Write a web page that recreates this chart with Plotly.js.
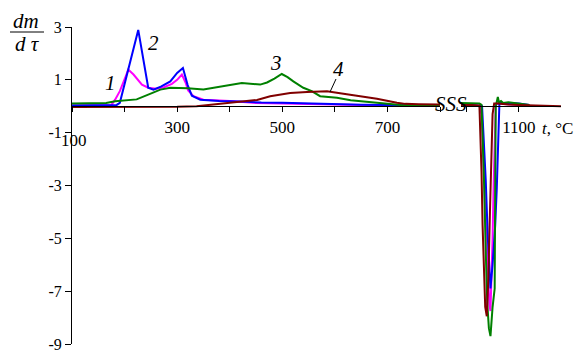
<!DOCTYPE html>
<html>
<head>
<meta charset="utf-8">
<script src="https://cdn.plot.ly/plotly-3.0.1.min.js"></script>
<style>html,body{margin:0;padding:0;background:#fff;}#chart{width:582px;height:354px;}</style>
</head>
<body>
<div id="chart"></div>
<script>
// ---- Data (t in °C, dm/dτ values) ----
// Segment before the axis break (100–800 °C)
const tMagentaA = [100,150,175,182,191,201,207,217,233,245,260,275,290,300,309,316,321,331,350,400,450,500,550,600,650,700,760];
const vMagentaA = [0.03,0.03,0.05,0.25,0.57,1.07,1.39,1.2,0.82,0.7,0.66,0.72,0.85,1.0,1.2,0.9,0.6,0.38,0.25,0.2,0.12,0.1,0.08,0.07,0.05,0.05,0.03];

const tBlueA = [100,150,185,191,226,245,255,270,287,300,311,320,328,344,380,420,460,500,550,600,650,700,760];
const vBlueA = [0.03,0.03,0.05,0.13,2.89,0.7,0.63,0.75,0.94,1.26,1.45,0.8,0.4,0.25,0.2,0.18,0.14,0.13,0.1,0.08,0.06,0.05,0.04];

const tGreenA = [100,165,182,200,223,245,268,287,320,350,382,423,458,471,485,499,510,521,540,556,572,604,630,649,680,725,763,800];
const vGreenA = [0.1,0.12,0.19,0.22,0.26,0.44,0.63,0.7,0.68,0.63,0.75,0.88,0.82,0.9,1.05,1.22,1.1,0.94,0.7,0.57,0.38,0.32,0.23,0.19,0.13,0.05,0.03,0.02];

const tBrownA = [100,200,300,337,395,452,477,515,547,585,610,649,680,718,734,760,800];
const vBrownA = [-0.03,-0.03,-0.02,0,0.13,0.24,0.38,0.5,0.54,0.57,0.49,0.38,0.28,0.13,0.09,0.08,0.07];

// Segment after the axis break (990–1180 °C)
const tMagentaB = [990,1010,1025,1029,1032,1036,1040,1044,1046,1048,1050,1052,1054,1056,1060,1080,1100,1115];
const vMagentaB = [0.05,0.05,0.03,-0.3,-1.5,-4.0,-6.0,-7.5,-7.75,-6.5,-5.0,-3.0,-1.0,0.05,0.1,0.08,0.05,0.03];

const tBlueB = [990,1010,1030,1033,1037,1041,1046,1050,1055,1058,1061,1063,1080,1100,1120];
const vBlueB = [0.05,0.05,0,-1.0,-2.8,-5.0,-6.9,-6.0,-4.5,-3.1,-1.5,0.12,0.12,0.1,0.05];

const tGreenB = [990,1010,1025,1029,1031,1034,1037,1040,1043,1046,1050,1054,1055,1056,1060,1062,1066,1070,1080,1100,1120];
const vGreenB = [0.12,0.12,0.1,0.05,-1.0,-3.0,-5.5,-7.5,-8.4,-8.7,-7.6,-6.9,-3.0,0.0,0.35,0.15,0.2,0.12,0.15,0.1,0.05];

const tBrownB = [990,1010,1025,1027,1029,1031,1034,1036,1039,1042,1045,1048,1050,1053,1060,1080,1100,1180];
const vBrownB = [0.05,0.05,0.02,-1.0,-2.5,-4.5,-6.5,-7.6,-7.95,-6.5,-4.0,-1.5,-0.3,0.1,0.1,0.07,0.05,0];

const yTicks = [3,1,-1,-3,-5,-7,-9];
const yTickText = ['3','1','-1','-3','-5','-7','-9'];
const xTicksA = [100,200,300,400,500,600,700,800];
const xTickTextA = ['','','300','','500','','700',''];
const xTicksB = [1000,1100];
const xTickTextB = ['','1100'];

const colors = {m:'#ff00ff', b:'#0000ff', g:'#008000', r:'#800000'};
const FONT = 'Liberation Serif';

function tr(x, y, c, ax){
  return {x:x, y:y, type:'scatter', mode:'lines', xaxis:ax, yaxis:'y',
          line:{color:c, width:2}, hoverinfo:'skip', showlegend:false};
}
const data = [
  tr(tMagentaA, vMagentaA, colors.m, 'x'),
  tr(tBlueA, vBlueA, colors.b, 'x'),
  tr(tGreenA, vGreenA, colors.g, 'x'),
  tr(tBrownA, vBrownA, colors.r, 'x'),
  tr(tMagentaB, vMagentaB, colors.m, 'x2'),
  tr(tBlueB, vBlueB, colors.b, 'x2'),
  tr(tGreenB, vGreenB, colors.g, 'x2'),
  tr(tBrownB, vBrownB, colors.r, 'x2')
];

// pixel helpers for paper placement (plot area: left 72, top 27, width 489, height 317)
const L=72, T=27, W=489, H=317;
const px = v => (v - L)/W;
const py = v => (T + H - v)/H;

const axisCommon = {
  showline:true, linecolor:'#000', linewidth:1, ticks:'outside', ticklen:5, tickcolor:'#000',
  showgrid:false, zeroline:false, anchor:'free', position:0.75,
  tickfont:{family:FONT, size:17, color:'#000'}, tickmode:'array'
};

const layout = {
  width:582, height:354,
  margin:{l:L, r:582-L-W, t:T, b:354-T-H, pad:0},
  paper_bgcolor:'#fff', plot_bgcolor:'rgba(0,0,0,0)',
  showlegend:false,
  font:{family:FONT, color:'#000'},
  xaxis: Object.assign({}, axisCommon, {domain:[0, px(440)], range:[100,800], tickvals:xTicksA, ticktext:xTickTextA}),
  xaxis2: Object.assign({}, axisCommon, {domain:[px(461), 1], range:[990,1180], tickvals:xTicksB, ticktext:xTickTextB}),
  yaxis: {
    domain:[0,1], range:[-9,3], anchor:'x', showline:true, linecolor:'#000', linewidth:1,
    ticks:'outside', ticklen:6, tickcolor:'#000', showgrid:false, zeroline:false,
    tickmode:'array', tickvals:yTicks, ticktext:yTickText, ticklabeloverflow:'allow',
    tickfont:{family:FONT, size:16, color:'#000'}
  },
  shapes: [
    {type:'line', xref:'paper', yref:'paper', x0:px(10), x1:px(44), y0:py(32), y1:py(32), line:{color:'#000', width:1}},
    {type:'line', xref:'paper', yref:'paper', x0:px(336), x1:px(330), y0:py(79), y1:py(92), line:{color:'#000', width:1}}
  ],
  annotations: [
    {xref:'paper', yref:'paper', x:px(26), y:py(21), text:'<i>dm</i>', showarrow:false, xanchor:'center', yanchor:'middle', font:{family:FONT, size:21, color:'#000'}},
    {xref:'paper', yref:'paper', x:px(27), y:py(44), text:'<i>d τ</i>', showarrow:false, xanchor:'center', yanchor:'middle', font:{family:FONT, size:21, color:'#000'}},
    {xref:'paper', yref:'paper', x:px(74), y:py(140), text:'100', showarrow:false, xanchor:'center', yanchor:'middle', font:{family:FONT, size:17, color:'#000'}},
    {xref:'paper', yref:'paper', x:px(540), y:py(128), text:'<i>t</i>, °C', showarrow:false, xanchor:'left', yanchor:'middle', font:{family:FONT, size:17, color:'#000'}},
    {xref:'paper', yref:'paper', x:px(451), y:py(104), text:'<i>SSS</i>', showarrow:false, xanchor:'center', yanchor:'middle', font:{family:FONT, size:21, color:'#000'}},
    {xref:'paper', yref:'paper', x:px(110), y:py(83), text:'<i>1</i>', showarrow:false, xanchor:'center', yanchor:'middle', font:{family:FONT, size:21, color:'#000'}},
    {xref:'paper', yref:'paper', x:px(153), y:py(43), text:'<i>2</i>', showarrow:false, xanchor:'center', yanchor:'middle', font:{family:FONT, size:21, color:'#000'}},
    {xref:'paper', yref:'paper', x:px(276), y:py(63), text:'<i>3</i>', showarrow:false, xanchor:'center', yanchor:'middle', font:{family:FONT, size:21, color:'#000'}},
    {xref:'paper', yref:'paper', x:px(338), y:py(69), text:'<i>4</i>', showarrow:false, xanchor:'center', yanchor:'middle', font:{family:FONT, size:21, color:'#000'}}
  ]
};

Plotly.newPlot('chart', data, layout, {staticPlot:true, displayModeBar:false});
</script>
</body>
</html>
